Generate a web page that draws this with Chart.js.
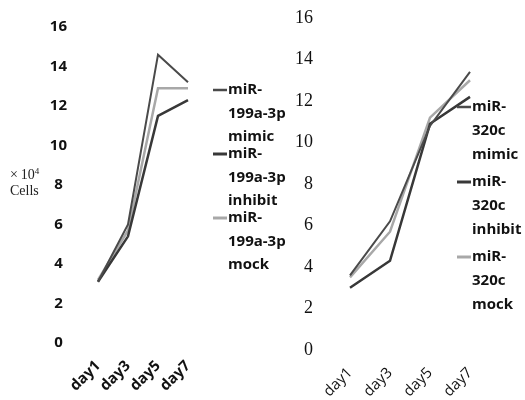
<!DOCTYPE html>
<html>
<head>
<meta charset="utf-8">
<script src="https://cdn.jsdelivr.net/npm/chart.js@4.4.1/dist/chart.umd.min.js"></script>
<style>
  html, body { margin: 0; padding: 0; background: #fff; }
  #wrap { position: relative; width: 525px; height: 400px; overflow: hidden; }
  #leftBox { position: absolute; left: 0; top: 0; width: 292px; height: 400px; }
  #rightBox { position: absolute; left: 292px; top: 0; width: 233px; height: 400px; }
  #unit { position: absolute; left: 10px; top: 167px; font: 14px "Liberation Serif", serif; line-height: 16px; color: #222; }
  #unit sup { font-size: 9px; vertical-align: 5px; line-height: 0; }
</style>
</head>
<body>
<div id="wrap">
  <div id="leftBox"><canvas id="leftChart"></canvas></div>
  <div id="rightBox"><canvas id="rightChart"></canvas></div>
  <div id="unit">×&thinsp;10<sup>4</sup><br>Cells</div>
</div>
<script>
// categories
const days = ['day1', 'day3', 'day5', 'day7'];

// miR-199a-3p panel (x10^4 cells)
const mimic199 = [3.1, 6.0, 14.6, 13.2];
const inhibit199 = [3.1, 5.4, 11.5, 12.3];
const mock199 = [3.2, 5.7, 12.9, 12.9];
const labels199 = [['miR-', '199a-3p', 'mimic'], ['miR-', '199a-3p', 'inhibit'], ['miR-', '199a-3p', 'mock']];

// miR-320c panel
const mimic320 = [3.6, 6.2, 10.8, 13.4];
const inhibit320 = [3.0, 4.3, 10.9, 12.2];
const mock320 = [3.5, 5.7, 11.2, 13.0];
const labels320 = [['miR-', '320c', 'mimic'], ['miR-', '320c', 'inhibit'], ['miR-', '320c', 'mock']];

const yTicks = [0, 2, 4, 6, 8, 10, 12, 14, 16];

// small legend painter, the legend wraps its text like the original
const wrapLegend = {
    id: 'wrapLegend',
    afterDraw(chart, args, opts) {
        const ctx = chart.ctx;
        const area = chart.chartArea;
        ctx.save();
        ctx.font = opts.font;
        ctx.fillStyle = '#111';
        ctx.textBaseline = 'middle';
        chart.data.datasets.forEach((ds, i) => {
            const y0 = opts.top + i * opts.itemGap;
            const x0 = area.right + opts.offsetX;
            ctx.strokeStyle = ds.borderColor;
            ctx.lineWidth = ds.borderWidth + 0.5;
            ctx.beginPath();
            ctx.moveTo(x0, y0);
            ctx.lineTo(x0 + opts.markLen, y0);
            ctx.stroke();
            ds.label.forEach((line, j) => {
                ctx.fillText(line, x0 + opts.markLen + 1, y0 + j * opts.lineGap);
            });
        });
        ctx.restore();
    }
};

function makeChart(id, sets, labelSets, cfg) {
    const colors = ['#4a4a4a', '#383838', '#a8a8a8'];
    const widths = [2, 2.5, 2.5];
    const ctx = document.getElementById(id);
    return new Chart(ctx, {
        type: 'line',
        data: {
            labels: days,
            datasets: sets.map((d, i) => ({
                label: labelSets[i],
                data: d,
                borderColor: colors[i],
                borderWidth: widths[i],
                pointRadius: 0,
                tension: 0,
                fill: false
            }))
        },
        options: {
            responsive: true,
            maintainAspectRatio: false,
            animation: false,
            layout: { padding: cfg.padding },
            plugins: {
                legend: { display: false },
                tooltip: { enabled: false },
                wrapLegend: cfg.legend
            },
            scales: {
                x: {
                    offset: false,
                    grid: { display: false, drawTicks: false },
                    border: { display: false },
                    ticks: {
                        autoSkip: false,
                        minRotation: 45,
                        maxRotation: 45,
                        padding: cfg.xPad,
                        color: '#111',
                        font: cfg.xFont
                    },
                    afterFit: (s) => {
                        s.height = cfg.xHeight;
                        s.paddingLeft = 0;
                        s.paddingRight = 0;
                    }
                },
                y: {
                    min: 0,
                    max: 16,
                    grid: { display: false, drawTicks: false },
                    border: { display: false },
                    afterBuildTicks: (s) => { s.ticks = yTicks.map(v => ({ value: v })); },
                    ticks: {
                        crossAlign: cfg.yAlign,
                        padding: cfg.yPad,
                        color: '#111',
                        font: cfg.yFont
                    },
                    afterFit: (s) => {
                        s.width = cfg.yWidth;
                        s.paddingTop = 0;
                        s.paddingBottom = 0;
                    }
                }
            }
        },
        plugins: [wrapLegend]
    });
}

makeChart('leftChart', [mimic199, inhibit199, mock199], labels199, {
    padding: { left: 0, right: 104, top: 27, bottom: 0 },
    yWidth: 98,
    yPad: 31,
    yAlign: 'center',
    yFont: { family: 'Open Sans', size: 15, weight: 'bold' },
    xHeight: 57,
    xPad: 14,
    xFont: { family: 'Open Sans', size: 15, weight: 'bold' },
    legend: { font: 'bold 15px "Open Sans"', top: 90, itemGap: 64, lineGap: 23.5, offsetX: 25, markLen: 14 }
});

makeChart('rightChart', [mimic320, inhibit320, mock320], labels320, {
    padding: { left: 0, right: 55, top: 18, bottom: 0 },
    yWidth: 58,
    yPad: 37,
    yAlign: 'near',
    yFont: { family: 'Liberation Serif', size: 18 },
    xHeight: 50,
    xPad: 14,
    xFont: { family: 'Open Sans', size: 15 },
    legend: { font: 'bold 15px "Open Sans"', top: 107, itemGap: 75, lineGap: 24, offsetX: -13, markLen: 14 }
});
</script>
</body>
</html>
